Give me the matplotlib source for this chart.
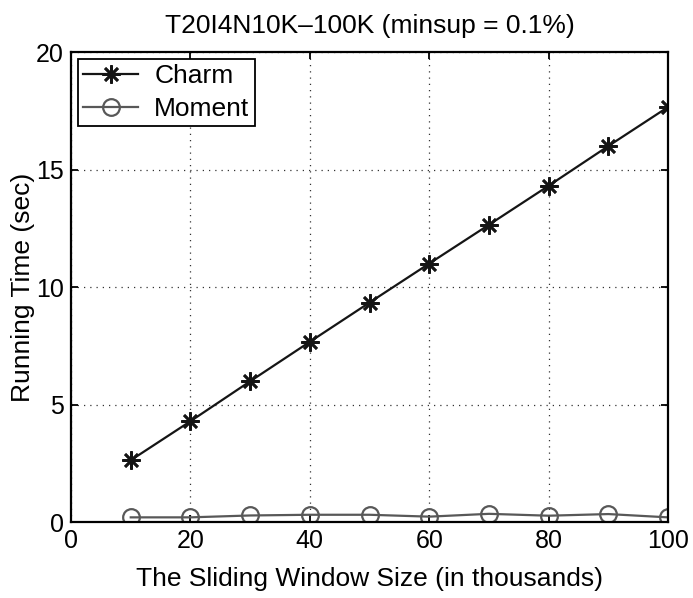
import matplotlib.pyplot as plt

plt.rcParams['font.family'] = ['Liberation Sans', 'DejaVu Sans']

window = [10, 20, 30, 40, 50, 60, 70, 80, 90, 100]
charm = [2.63, 4.29, 5.99, 7.67, 9.34, 11.0, 12.65, 14.31, 16.0, 17.66]
moment = [0.20, 0.20, 0.28, 0.31, 0.31, 0.23, 0.35, 0.27, 0.34, 0.20]

fig = plt.figure(figsize=(6.93, 5.98), dpi=100)
ax = fig.add_axes([0.1025, 0.127, 0.8615, 0.786])

ax.plot(window, charm, color='#151515', lw=1.6, marker=(8, 2, 0), ms=13,
        mew=1.9, label='Charm')
ax.plot(window, moment, color='#585858', lw=1.6, marker='o', ms=12,
        mfc='none', mew=1.6, label='Moment')

ax.set_xlim(0, 100)
ax.set_ylim(0, 20)
ax.set_xticks([0, 20, 40, 60, 80, 100])
ax.set_yticks([0, 5, 10, 15, 20])
ax.grid(True, linestyle=(0, (1, 4)), color='#333333', lw=0.9)
ax.tick_params(direction='in', length=5, width=1.3, labelsize=18,
               top=True, right=True, pad=5)
for s in ax.spines.values():
    s.set_linewidth(1.6)

ax.set_xlabel('The Sliding Window Size (in thousands)', fontsize=19, labelpad=10)
ax.set_ylabel('Running Time (sec)', fontsize=19, labelpad=1)
ax.set_title('T20I4N10K\u2013100K (minsup = 0.1%)', fontsize=19, pad=14)

leg = ax.legend(loc='upper left', fontsize=19, fancybox=False,
                edgecolor='black', framealpha=1, borderaxespad=0.25,
                handlelength=2.1, handletextpad=0.6, labelspacing=0.35,
                borderpad=0.2)
leg.get_frame().set_linewidth(1.3)

fig.savefig('out.png', dpi=100)
